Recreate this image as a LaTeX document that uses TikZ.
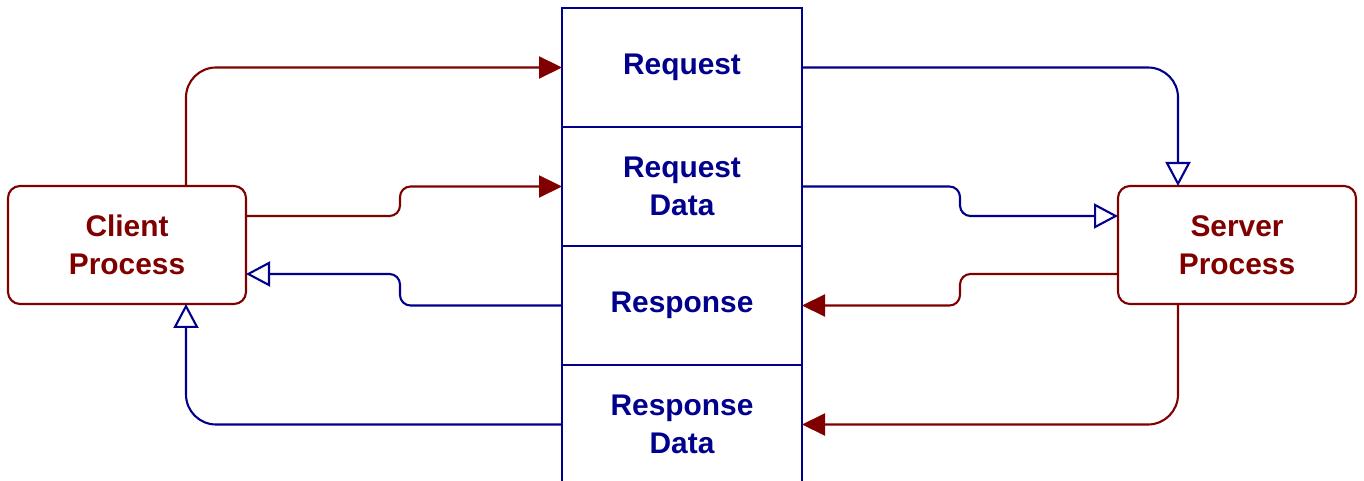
\documentclass[tikz,border=0pt]{standalone}
\usepackage{fontspec}
\setmainfont{Liberation Sans}
\usepackage{xcolor}
\usepackage{tikz}
\usetikzlibrary{arrows.meta, positioning}
\definecolor{MsgBlue}{RGB}{0, 0, 140}
\definecolor{ProcRed}{RGB}{128, 0, 0}

\tikzset{
  slot/.style={draw=MsgBlue, line width=1.2pt, minimum width=4.8cm, minimum height=2.38cm,
    outer sep=0pt, align=center, text=MsgBlue, font=\fontsize{17}{21.5}\selectfont\bfseries},
  proc/.style={rectangle, rounded corners=0.24cm, draw=ProcRed, line width=1.2pt,
    minimum width=4.76cm, minimum height=2.36cm, outer sep=0pt, align=center,
    text=ProcRed, font=\fontsize{17}{21.5}\selectfont\bfseries},
  send/.style={ProcRed, line width=1.2pt, -{Triangle[length=0.46cm, width=0.44cm]}},
  reply/.style={MsgBlue, line width=1.2pt, -{Triangle[open, length=0.48cm, width=0.5cm]}}
}

\begin{document}
\begin{tikzpicture}
  \clip (0,0) rectangle (27.28,-9.62);

  % message slots, stacked
  \node[slot] (req) at (13.64,-1.35) {Request};
  \node[slot, below=0pt of req] (reqdata) {Request\\Data};
  \node[slot, below=0pt of reqdata] (resp) {Response};
  \node[slot, below=0pt of resp] (respdata) {Response\\Data};

  % the two processes
  \node[proc] (client) at (2.54,-4.9) {Client\\Process};
  \node[proc] (server) at (24.74,-4.9) {Server\\Process};

  % client side
  \draw[send, rounded corners=0.6cm] ([xshift=1.18cm]client.north) |- (req.west);
  \draw[send, rounded corners=6pt] ([yshift=0.58cm]client.east) -- (8.0,-4.32) -- (8.0,-3.73) -- (reqdata.west);
  \draw[reply, rounded corners=6pt] (resp.west) -- (8.0,-6.11) -- (8.0,-5.48) -- ([yshift=-0.58cm]client.east);
  \draw[reply, rounded corners=0.6cm] (respdata.west) -| ([xshift=1.18cm]client.south);

  % server side
  \draw[reply, rounded corners=0.6cm] (req.east) -| ([xshift=-1.18cm]server.north);
  \draw[reply, rounded corners=6pt] (reqdata.east) -- (19.2,-3.73) -- (19.2,-4.32) -- ([yshift=0.58cm]server.west);
  \draw[send, rounded corners=6pt] ([yshift=-0.58cm]server.west) -- (19.2,-5.48) -- (19.2,-6.11) -- (resp.east);
  \draw[send, rounded corners=0.6cm] ([xshift=-1.18cm]server.south) |- (respdata.east);
\end{tikzpicture}
\end{document}
